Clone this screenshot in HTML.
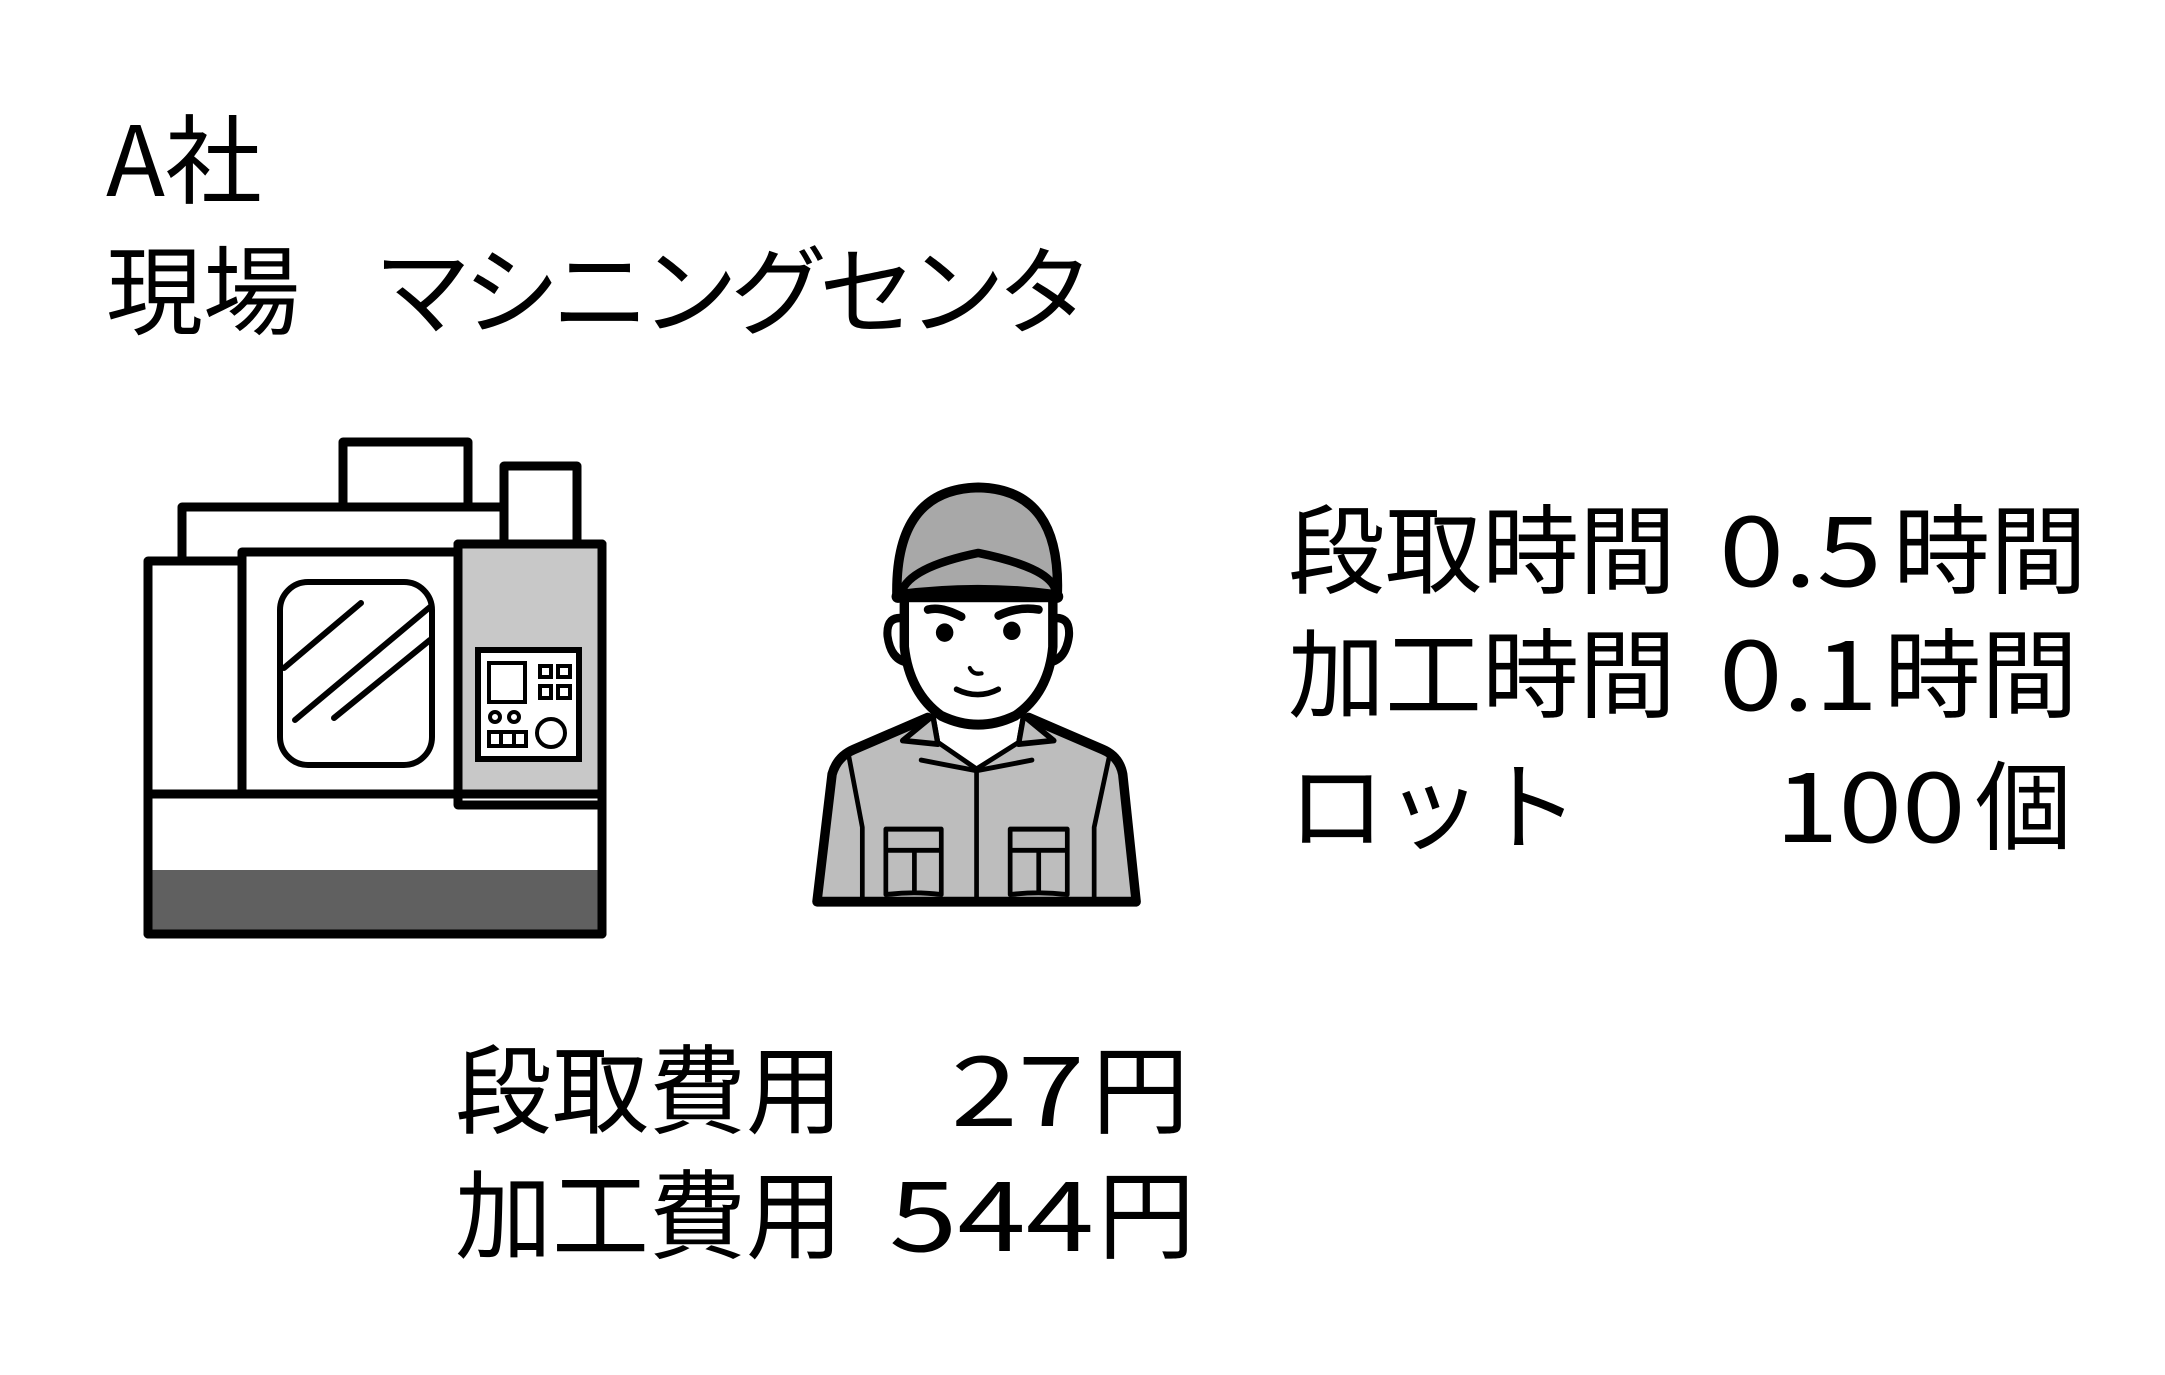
<!DOCTYPE html>
<html><head><meta charset="utf-8"><style>
html,body{margin:0;padding:0;background:#fff;}
body{width:2165px;height:1375px;position:relative;overflow:hidden;font-family:"Noto Sans CJK JP","Liberation Sans",sans-serif;color:#000;}
.t{position:absolute;white-space:pre;font-size:97px;line-height:97px;font-family:"Noto Sans CJK JP","Liberation Sans",sans-serif;}
.d{transform-origin:0 0;}
svg{position:absolute;left:0;top:0;}
</style></head><body>
<svg width="2165" height="1375" viewBox="0 0 2165 1375">
 <g stroke="#000" stroke-width="9" stroke-linejoin="round" fill="#fff">
  <rect x="182" y="507" width="322" height="54"/>
  <rect x="343" y="442" width="125" height="65"/>
  <rect x="504" y="466" width="73" height="78"/>
  <rect x="148" y="561" width="94" height="233"/>
  <rect x="242" y="552" width="218" height="242"/>
  <rect x="458" y="544" width="144" height="261" fill="#c8c8c8"/>
  <rect x="148" y="794" width="454" height="140"/>
  <rect x="152" y="870" width="446" height="60" fill="#606060" stroke="none"/>
  <rect x="148" y="794" width="454" height="140" fill="none"/>
  <rect x="458" y="544" width="144" height="261" fill="none"/>
 </g>
 <g stroke="#000" stroke-width="6" fill="none" stroke-linecap="round">
  <rect x="280" y="582" width="152" height="183" rx="28" fill="#fff"/>
  <line x1="284" y1="668" x2="361" y2="603"/>
  <line x1="295" y1="720" x2="430" y2="607"/>
  <line x1="334" y1="718" x2="430" y2="640"/>
  <rect x="478" y="650" width="101" height="109" fill="#fff"/>
 </g>
 <g stroke="#000" stroke-width="4" fill="none">
  <rect x="489" y="663" width="36" height="39"/>
  <rect x="540" y="666" width="11" height="11"/><rect x="558" y="666" width="12" height="11"/>
  <rect x="540" y="686" width="11" height="12"/><rect x="558" y="686" width="12" height="12"/>
  <circle cx="495" cy="717" r="5"/><circle cx="514" cy="717" r="5"/>
  <rect x="489" y="732" width="37" height="14"/>
  <line x1="501" y1="732" x2="501" y2="746"/><line x1="514" y1="732" x2="514" y2="746"/>
  <circle cx="551" cy="733" r="14"/>
 </g>
 <g transform="translate(780,445) scale(0.336,0.354)" stroke="#000" stroke-linejoin="round" stroke-linecap="round">
  <path d="M110,1290 L155,930 Q170,880 220,860 L440,770 L590,900 L740,770 L960,860 Q1010,880 1020,930 L1060,1290 Z" fill="#bdbdbd" stroke-width="28"/>
  <path d="M205,880 L245,1080 L245,1290 M980,880 L935,1080 L935,1290" fill="none" stroke-width="14"/>
  <path d="M585,915 L585,1290" fill="none" stroke-width="14"/>
  <path d="M455,760 L470,840 L585,915 L710,840 L725,760 Z" fill="#fff" stroke-width="14"/>
  <path d="M455,765 L365,835 L470,845 Z M725,765 L815,835 L710,845 Z" fill="#bdbdbd" stroke-width="16"/>
  <path d="M420,890 Q500,905 585,920 Q670,905 750,890" fill="none" stroke-width="14"/>
  <path d="M372,490 Q315,480 320,540 Q330,610 385,615 M808,490 Q865,480 860,540 Q850,610 795,615" fill="#fff" stroke-width="24"/>
  <path d="M370,430 L370,570 Q385,700 480,765 Q590,815 700,765 Q800,700 812,570 L812,430 Z" fill="#fff" stroke-width="28"/>
  <path d="M348,430 Q340,125 590,120 Q840,125 825,430 Z" fill="#a8a8a8" stroke-width="28"/>
  <path d="M362,415 Q385,345 590,305 Q795,345 818,405" fill="none" stroke-width="24"/>
  <path d="M350,428 Q590,398 825,428" fill="none" stroke-width="36"/>
  <path d="M440,465 Q480,455 540,485 M650,482 Q710,455 770,465" fill="none" stroke-width="24"/>
  <circle cx="490" cy="530" r="26" fill="#000" stroke="none"/>
  <circle cx="690" cy="525" r="26" fill="#000" stroke="none"/>
  <path d="M565,630 Q575,650 600,645" fill="none" stroke-width="12"/>
  <path d="M525,690 Q590,720 650,690" fill="none" stroke-width="16"/>
  <path d="M315,1085 L480,1085 L480,1270 Q400,1260 315,1270 Z M315,1145 L480,1145 M400,1145 L400,1265" fill="none" stroke-width="14"/>
  <path d="M685,1085 L855,1085 L855,1270 Q770,1260 685,1270 Z M685,1145 L855,1145 M770,1145 L770,1265" fill="none" stroke-width="14"/>
 </g>
</svg>
<div class="t" style="left:106px;top:105px;">A社</div>
<div class="t" style="left:106px;top:236px;">現場</div>
<div class="t" style="left:374px;top:236px;letter-spacing:-8px;">マシニングセンタ</div>

<div class="t" style="left:1288px;top:495px;">段取時間</div>
<div class="t d" style="left:1719px;top:495px;transform:scaleX(1.21);">0.5</div>
<div class="t" style="left:1893px;top:495px;">時間</div>

<div class="t" style="left:1288px;top:619px;">加工時間</div>
<div class="t d" style="left:1719px;top:619px;transform:scaleX(1.18);">0.1</div>
<div class="t" style="left:1884px;top:619px;">時間</div>

<div class="t" style="left:1288px;top:751px;">ロット</div>
<div class="t d" style="left:1775px;top:751px;transform:scaleX(1.18);">100</div>
<div class="t" style="left:1975px;top:751px;">個</div>

<div class="t" style="left:455px;top:1035px;">段取費用</div>
<div class="t d" style="left:951px;top:1035px;transform:scaleX(1.24);">27</div>
<div class="t" style="left:1092px;top:1035px;">円</div>

<div class="t" style="left:455px;top:1160px;">加工費用</div>
<div class="t d" style="left:889px;top:1160px;transform:scaleX(1.27);">544</div>
<div class="t" style="left:1098px;top:1160px;">円</div>
</body></html>
